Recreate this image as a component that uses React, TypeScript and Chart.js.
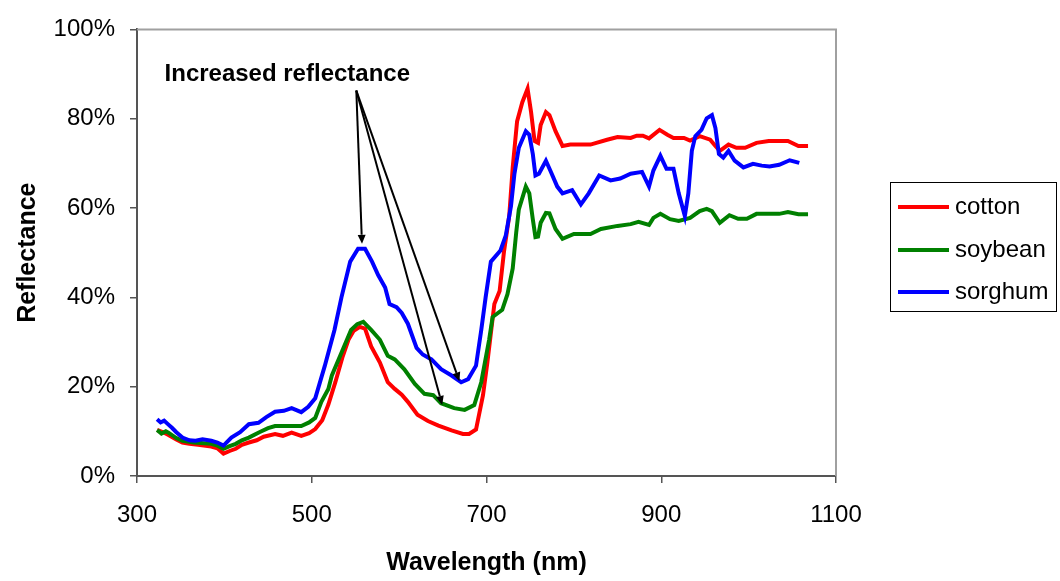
import React, { useEffect, useRef } from "react";
import { Chart, registerables } from "chart.js";

Chart.register(...registerables);

// ---- data (wavelength in nm, reflectance in %) ----
const cottonNm = [323, 330, 336, 345, 352, 360, 370, 385, 392, 399, 406, 413, 420, 428, 437, 445, 458, 467, 477, 488, 497, 504, 512, 519, 527, 535, 542, 548, 555, 561, 568, 578, 587, 595, 603, 610, 621, 633, 645, 660, 673, 680, 688, 696, 701, 709, 715, 720, 726, 730, 735, 741, 747, 751, 755, 759, 762, 768, 772, 779, 787, 796, 819, 838, 850, 865, 872, 879, 886, 898, 907, 914, 926, 933, 944, 956, 962, 967, 977, 986, 996, 1009, 1023, 1045, 1057, 1068];
const cottonPct = [10.3, 9.8, 9.2, 8.2, 7.5, 7.2, 7.0, 6.6, 6.2, 5.0, 5.6, 6.1, 7.0, 7.5, 8.0, 8.8, 9.4, 9.0, 9.7, 9.0, 9.6, 10.5, 12.5, 16.0, 21.0, 26.5, 30.5, 32.5, 33.4, 33.0, 29.0, 25.4, 21.0, 19.5, 18.2, 16.6, 13.7, 12.3, 11.3, 10.2, 9.4, 9.4, 10.4, 18.1, 25.4, 38.5, 41.4, 50.2, 58.2, 69.1, 79.4, 83.7, 86.7, 81.5, 75.0, 74.6, 78.6, 81.5, 80.8, 77.2, 73.9, 74.2, 74.2, 75.3, 75.9, 75.7, 76.2, 76.2, 75.6, 77.5, 76.4, 75.7, 75.7, 75.1, 76.1, 75.3, 73.9, 72.8, 74.2, 73.5, 73.5, 74.6, 75.0, 75.0, 73.9, 73.9];

const soybeanNm = [323, 328, 333, 336, 345, 352, 365, 385, 392, 399, 406, 413, 420, 428, 440, 450, 458, 470, 488, 497, 504, 511, 519, 523, 534, 545, 552, 559, 568, 578, 587, 595, 606, 618, 629, 639, 648, 663, 675, 686, 694, 703, 707, 718, 724, 730, 734, 737, 745, 749, 753, 756, 759, 762, 768, 772, 779, 787, 800, 819, 831, 850, 865, 874, 886, 891, 899, 910, 920, 933, 944, 952, 958, 967, 978, 988, 998, 1009, 1035, 1045, 1057, 1068];
const soybeanPct = [10.3, 9.5, 10.0, 9.7, 8.5, 7.9, 7.5, 7.2, 6.8, 6.1, 6.7, 7.2, 8.0, 8.6, 9.8, 10.7, 11.2, 11.2, 11.2, 12.0, 13.0, 16.6, 19.5, 22.5, 27.6, 32.7, 34.0, 34.5, 32.7, 30.5, 26.9, 26.1, 23.9, 20.6, 18.4, 18.1, 16.3, 15.2, 14.8, 15.9, 21.0, 30.5, 35.6, 37.2, 40.7, 46.5, 54.5, 59.7, 64.8, 63.3, 57.5, 53.5, 53.6, 56.7, 58.9, 58.8, 55.3, 53.1, 54.2, 54.2, 55.3, 56.0, 56.4, 56.9, 56.2, 57.8, 58.7, 57.5, 57.1, 57.8, 59.3, 59.8, 59.3, 56.7, 58.4, 57.6, 57.6, 58.7, 58.7, 59.1, 58.6, 58.6];

const sorghumNm = [323, 327, 331, 336, 340, 345, 352, 360, 367, 375, 385, 392, 399, 408, 418, 428, 439, 448, 458, 468, 477, 488, 496, 504, 515, 526, 534, 544, 553, 561, 569, 576, 584, 589, 597, 603, 610, 620, 627, 637, 648, 660, 671, 679, 688, 694, 699, 705, 716, 722, 728, 732, 737, 745, 749, 753, 756, 760, 768, 773, 781, 787, 798, 808, 817, 829, 842, 853, 865, 878, 886, 891, 899, 906, 914, 920, 927, 931, 935, 939, 946, 952, 958, 962, 966, 971, 977, 984, 994, 1005, 1015, 1024, 1035, 1047, 1058];
const sorghumPct = [12.7, 12.0, 12.4, 11.5, 10.8, 9.8, 8.6, 8.0, 7.9, 8.2, 7.9, 7.5, 6.8, 8.6, 9.8, 11.6, 11.9, 13.2, 14.4, 14.6, 15.2, 14.3, 15.5, 17.4, 24.7, 32.7, 40.0, 48.0, 50.9, 50.9, 48.0, 45.0, 42.2, 38.5, 37.8, 36.5, 34.1, 28.7, 27.2, 26.1, 23.9, 22.5, 21.0, 21.7, 24.7, 32.7, 40.0, 48.0, 50.5, 53.8, 60.4, 67.7, 73.5, 77.2, 76.4, 72.1, 67.3, 67.7, 70.6, 68.4, 64.8, 63.3, 64.0, 60.8, 63.3, 67.3, 66.2, 66.6, 67.7, 68.1, 64.8, 68.4, 71.7, 68.8, 68.8, 63.3, 58.2, 63.3, 72.8, 76.1, 77.5, 80.1, 80.8, 77.9, 72.1, 71.3, 72.8, 70.6, 69.1, 69.9, 69.5, 69.3, 69.7, 70.7, 70.1];

const seriesNames = ["cotton", "soybean", "sorghum"];
const seriesColors = ["#FF0000", "#008000", "#0000FF"];

const xTicks = [300, 500, 700, 900, 1100];
const yTicks = [0, 20, 40, 60, 80, 100];

const xTitle = "Wavelength (nm)";
const yTitle = "Reflectance";

// annotation (data coordinates)
const noteText = "Increased reflectance";
const noteAt = [472, 90];
const arrowFrom = [551, 86.3];
const arrowTipNm = [557.5, 649.3, 669];
const arrowTipPct = [52, 15.9, 21.2];

const FONT = "'Liberation Sans', Arial, sans-serif";

function pts(xs: number[], ys: number[]) {
  return xs.map((x, i) => ({ x, y: ys[i] }));
}

const overlayPlugin = {
  id: "overlay",
  afterDatasetsDraw(chart: any) {
    const { ctx, chartArea: a, scales } = chart;
    const xs = scales.x;
    const ys = scales.y;
    ctx.save();
    // plot-area frame (top and right)
    ctx.strokeStyle = "#a0a0a0";
    ctx.lineWidth = 2;
    ctx.beginPath();
    ctx.moveTo(a.left, a.top);
    ctx.lineTo(a.right, a.top);
    ctx.lineTo(a.right, a.bottom);
    ctx.stroke();

    // arrows
    const sx = xs.getPixelForValue(arrowFrom[0]);
    const sy = ys.getPixelForValue(arrowFrom[1]);
    ctx.strokeStyle = "#000";
    ctx.fillStyle = "#000";
    ctx.lineWidth = 2;
    arrowTipNm.forEach((nm, i) => {
      const tx = xs.getPixelForValue(nm);
      const ty = ys.getPixelForValue(arrowTipPct[i]);
      const ang = Math.atan2(ty - sy, tx - sx);
      const len = 9;
      const hw = 4;
      const bx = tx - len * Math.cos(ang);
      const by = ty - len * Math.sin(ang);
      ctx.beginPath();
      ctx.moveTo(sx, sy);
      ctx.lineTo(bx, by);
      ctx.stroke();
      ctx.beginPath();
      ctx.moveTo(tx, ty);
      ctx.lineTo(bx + hw * Math.sin(ang), by - hw * Math.cos(ang));
      ctx.lineTo(bx - hw * Math.sin(ang), by + hw * Math.cos(ang));
      ctx.closePath();
      ctx.fill();
    });

    // annotation text
    ctx.font = `bold 24px ${FONT}`;
    ctx.textAlign = "center";
    ctx.textBaseline = "middle";
    ctx.fillStyle = "#000";
    ctx.fillText(noteText, xs.getPixelForValue(noteAt[0]), ys.getPixelForValue(noteAt[1]));

    // legend
    ctx.strokeStyle = "#000";
    ctx.lineWidth = 1;
    ctx.strokeRect(890.5, 182.5, 166, 129);
    const rowY = [207, 250, 292];
    ctx.font = `24px ${FONT}`;
    ctx.textAlign = "left";
    seriesNames.forEach((name, i) => {
      ctx.strokeStyle = seriesColors[i];
      ctx.lineWidth = 4;
      ctx.beginPath();
      ctx.moveTo(898, rowY[i]);
      ctx.lineTo(949, rowY[i]);
      ctx.stroke();
      ctx.fillStyle = "#000";
      ctx.fillText(name, 955, rowY[i]);
    });
    ctx.restore();
  },
};

export default function App() {
  const ref = useRef<HTMLCanvasElement | null>(null);

  useEffect(() => {
    if (!ref.current) return;
    Chart.defaults.font.family = FONT;
    const all = [
      pts(cottonNm, cottonPct),
      pts(soybeanNm, soybeanPct),
      pts(sorghumNm, sorghumPct),
    ];
    const chart = new Chart(ref.current, {
      type: "line",
      data: {
        datasets: seriesNames.map((name, i) => ({
          label: name,
          data: all[i],
          borderColor: seriesColors[i],
          backgroundColor: seriesColors[i],
          borderWidth: 4,
          pointRadius: 0,
          tension: 0,
          fill: false,
          order: 3 - i,
        })),
      },
      options: {
        animation: false,
        responsive: false,
        layout: { padding: { left: 0, right: 224, top: 19, bottom: 0 } },
        plugins: {
          legend: { display: false },
          tooltip: { enabled: false },
        },
        scales: {
          x: {
            type: "linear",
            min: 300,
            max: 1100,
            afterBuildTicks: (s: any) => {
              s.ticks = xTicks.map((v) => ({ value: v }));
            },
            afterFit: (s: any) => {
              s.height = 105;
            },
            grid: { display: true, drawOnChartArea: false, drawTicks: true, tickLength: 7, color: "#555", lineWidth: 1.5 },
            border: { display: true, color: "#555", width: 2 },
            ticks: { color: "#000", font: { size: 24 }, padding: 18, maxRotation: 0, autoSkip: false, callback: (v: any) => String(v) },
            title: { display: true, text: xTitle, color: "#000", font: { size: 25, weight: "bold" }, padding: { top: 0, bottom: 3 } },
          },
          y: {
            type: "linear",
            min: 0,
            max: 100,
            afterBuildTicks: (s: any) => {
              s.ticks = yTicks.map((v) => ({ value: v }));
            },
            afterFit: (s: any) => {
              s.width = 137;
            },
            grid: { display: true, drawOnChartArea: false, drawTicks: true, tickLength: 7, color: "#555", lineWidth: 1.5 },
            border: { display: true, color: "#555", width: 2 },
            ticks: { color: "#000", font: { size: 24 }, padding: 15, callback: (v: any) => `${v}%` },
            title: { display: true, text: yTitle, color: "#000", font: { size: 25, weight: "bold" }, padding: { top: 13, bottom: 0 } },
          },
        },
      },
      plugins: [overlayPlugin],
    });
    return () => chart.destroy();
  }, []);

  return (
    <div style={{ position: "absolute", left: 0, top: 0, width: 1060, height: 581, background: "#fff" }}>
      <canvas ref={ref} width={1060} height={581} style={{ width: 1060, height: 581, display: "block" }} />
    </div>
  );
}
